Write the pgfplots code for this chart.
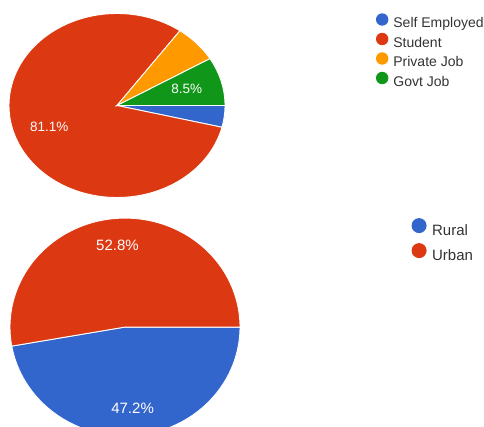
\documentclass[border=0pt]{standalone}
\usepackage{fontspec}
\setmainfont{Liberation Sans}
\usepackage{pgfplots}
\usepackage{pgfplotstable}
\pgfplotsset{compat=1.18}
\definecolor{gblue}{HTML}{3366CC}
\definecolor{gred}{HTML}{DC3912}
\definecolor{gorange}{HTML}{FF9900}
\definecolor{ggreen}{HTML}{109618}
\definecolor{legtext}{HTML}{333333}

\pgfplotstableread{
name pct col show
{Self Employed} 3.8 gblue 0
Student 81.1 gred 1
{Private Job} 6.6 gorange 0
{Govt Job} 8.5 ggreen 1
}\occupation
\pgfplotstableread{
name pct col show
Rural 47.2 gblue 1
Urban 52.8 gred 1
}\residence

\tikzset{toplab/.style={font=\fontsize{13.5}{13.5}\selectfont},
         botlab/.style={font=\fontsize{15}{15}\selectfont}}

\newcommand{\drawpie}[3]{%
  \pgfplotstablegetrowsof{#1}\pgfmathtruncatemacro\N{\pgfplotsretval-1}%
  \def\cum{0}%
  \pgfplotsforeachungrouped \i in {0,...,\N}{%
    \pgfplotstablegetelem{\i}{pct}\of#1\let\p\pgfplotsretval
    \pgfplotstablegetelem{\i}{col}\of#1\let\c\pgfplotsretval
    \pgfplotstablegetelem{\i}{name}\of#1\let\nm\pgfplotsretval
    \pgfplotstablegetelem{\i}{show}\of#1\let\s\pgfplotsretval
    \pgfmathsetmacro\a{-3.6*(\cum+\p)}%
    \pgfmathsetmacro\b{-3.6*\cum}%
    \edef\doplot{\noexpand\addplot[fill=\c, draw=white, line width=0.9pt, domain=\a:\b, samples=120] ({cos(x)},{sin(x)}) -- (axis cs:0,0) -- cycle; \noexpand\addlegendentry{\nm}}%
    \doplot
    \ifnum\s=1
      \pgfmathsetmacro\m{(\a+\b)/2}%
      \pgfmathsetmacro\lx{#2*cos(\m)}%
      \pgfmathsetmacro\ly{#2*sin(\m)}%
      \edef\donode{\noexpand\node[text=white, #3] at (axis cs:\lx,\ly) {\p\noexpand\%};}%
      \donode
    \fi
    \pgfmathsetmacro\cum{\cum+\p}%
  }%
}

\begin{document}
\begin{tikzpicture}
\path[use as bounding box] (0,0) rectangle (484pt,-427pt);

% top pie: Occupation
\begin{axis}[at={(9pt,-197.5pt)}, anchor=south west, scale only axis,
  width=216pt, height=184pt, xmin=-1, xmax=1, ymin=-1, ymax=1,
  hide axis, clip=false,
  legend image code/.code={\fill[#1,draw=none] (0pt,4.8pt) circle (6.2pt);},
  legend cell align=left,
  legend style={draw=none, fill=none, inner sep=0pt, outer sep=0pt,
    at={(1.699,1.001)}, anchor=north west, row sep=2pt, column sep=5pt,
    font=\fontsize{14}{14}\selectfont,
    nodes={inner sep=0pt, text height=10pt, text depth=3pt, text=legtext}}]
\drawpie{\occupation}{0.67}{toplab}
\end{axis}

% bottom pie: Residence (cut off at the bottom edge)
\begin{axis}[at={(10pt,-427pt)}, anchor=south west, scale only axis,
  width=230pt, height=208.9pt, xmin=-1, xmax=1, ymin=-0.9174, ymax=1,
  hide axis, clip=true,
  legend image code/.code={\fill[#1,draw=none] (0pt,5.4pt) circle (7.5pt);},
  legend cell align=left,
  legend style={draw=none, fill=none, inner sep=0pt, outer sep=0pt,
    at={(1.746,1.0)}, anchor=north west, row sep=4.6pt, column sep=5.5pt,
    font=\fontsize{15}{15}\selectfont,
    nodes={inner sep=0pt, text height=11.5pt, text depth=3.5pt, text=legtext}}]
\drawpie{\residence}{0.75}{botlab}
\end{axis}
\end{tikzpicture}
\end{document}
